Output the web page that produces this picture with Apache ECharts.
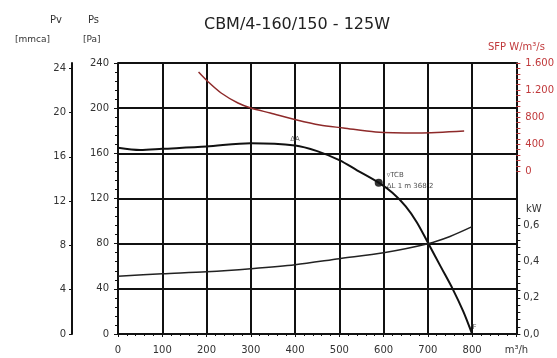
<!DOCTYPE html>
<html><head><meta charset="utf-8">
<script src="https://cdn.jsdelivr.net/npm/echarts@6/dist/echarts.min.js"></script>
<style>html,body{margin:0;padding:0;background:#fff}#c{width:557px;height:358px}</style>
</head><body><div id="c"></div>
<script>
// ---- data ----
const flowPressure = [0, 50, 100, 200, 300, 400, 450, 500, 540, 589, 620, 650, 675, 700, 730, 756, 780, 800];
const pressurePa   = [165, 163, 164, 166, 169, 167, 162, 154, 145, 134, 125, 113, 99, 81, 59, 40, 20, 0];
const flowPower = [0, 100, 200, 300, 400, 500, 600, 700, 750, 800];
const powerKW   = [0.32, 0.333, 0.344, 0.361, 0.383, 0.417, 0.45, 0.5, 0.54, 0.594];
const flowSFP   = [182, 204, 233, 271, 300, 344, 404, 456, 509, 582, 678, 782];
const sfpValues = [1467, 1320, 1157, 1009, 936, 862, 759, 685, 641, 581, 567, 596];
const dutyPoint = [589, 134];
const xLabels   = {0:'0',100:'100',200:'200',300:'300',400:'400',500:'500',600:'600',700:'700',800:'800',900:'m³/h'};
const mmTicks   = [0, 4, 8, 12, 16, 20, 24];
const sfpTicks  = [0, 400, 800, 1200, 1600];
const sfpLabels = ['0', '400', '800', '1.200', '1.600'];
const kwTicks   = [0, 0.2, 0.4, 0.6];
const kwLabels  = ['0,0', '0,2', '0,4', '0,6'];
const annotations = [
  {x: 400, y: 167, text: 'ΔA'},
  {x: 800, y: 0, text: 'VF'}
];
const titleText = 'CBM/4-160/150 - 125W';

const PA_PER_MM = 9.81;
const kwMinor = []; for (let v = 0; v <= 0.6401; v += 0.04) kwMinor.push(+v.toFixed(2));
const sfpMinor = []; for (let v = 0; v <= 1600; v += 80) sfpMinor.push(v);

const zip = (a, b) => a.map((v, i) => [v, b[i]]);
const lbl = {fontFamily: 'DejaVu Sans', fontSize: 10, color: '#333'};

const chart = echarts.init(document.getElementById('c'), null, {renderer: 'canvas'});
chart.setOption({
  animation: false,
  backgroundColor: '#fff',
  title: {text: titleText, left: 292, top: 12, textAlign: 'center',
    textStyle: {fontFamily: 'DejaVu Sans', fontSize: 16, fontWeight: 'normal', color: '#222'}},
  grid: {left: 118, right: 35, top: 63, bottom: 24},
  xAxis: {type: 'value', min: 0, max: 900, interval: 100,
    axisLine: {show: true, lineStyle: {color: '#111', width: 2}},
    axisTick: {show: true, length: 3, lineStyle: {color: '#111'}},
    minorTick: {show: true, splitNumber: 5, length: 2, lineStyle: {color: '#111'}},
    splitLine: {show: true, lineStyle: {color: '#111', width: 2}},
    axisLabel: Object.assign({}, lbl, {margin: 11, formatter: v => xLabels[v] || ''})},
  yAxis: [
    {type: 'value', min: 0, max: 240, interval: 40, position: 'left',
      axisLine: {show: true, lineStyle: {color: '#111', width: 2}},
      axisTick: {show: true, length: 4, lineStyle: {color: '#111'}},
      minorTick: {show: true, splitNumber: 5, length: 3, lineStyle: {color: '#111'}},
      splitLine: {show: true, lineStyle: {color: '#111', width: 2}},
      axisLabel: Object.assign({}, lbl, {margin: 9})},
    {type: 'value', min: 0, max: 240 / PA_PER_MM, position: 'left', offset: 46,
      axisLine: {show: true, lineStyle: {color: '#111', width: 2}},
      axisTick: {show: true, length: 3, customValues: mmTicks, lineStyle: {color: '#111'}},
      splitLine: {show: false},
      axisLabel: Object.assign({}, lbl, {margin: 6, customValues: mmTicks})},
    {type: 'value', min: -2400, max: 1600, position: 'right',
      axisLine: {show: false},
      axisTick: {show: true, length: 4, customValues: sfpMinor, lineStyle: {color: '#c0393b'}},
      splitLine: {show: false},
      axisLabel: Object.assign({}, lbl, {color: '#c0393b', margin: 9, customValues: sfpTicks,
        formatter: v => sfpLabels[sfpTicks.indexOf(v)]})},
    {type: 'value', min: 0, max: 1.5, position: 'right',
      axisLine: {show: true, lineStyle: {color: '#111', width: 2}},
      axisTick: {show: true, length: 4, customValues: kwMinor, lineStyle: {color: '#111'}},
      splitLine: {show: false},
      axisLabel: Object.assign({}, lbl, {margin: 7, customValues: kwTicks,
        formatter: v => kwLabels[kwTicks.indexOf(+v.toFixed(1))]})}
  ],
  series: [
    {type: 'line', name: 'Ps', yAxisIndex: 0, data: zip(flowPressure, pressurePa), smooth: 0.3,
      showSymbol: false, lineStyle: {color: '#111', width: 2}},
    {type: 'line', name: 'P', yAxisIndex: 3, data: zip(flowPower, powerKW), smooth: 0.3,
      showSymbol: false, lineStyle: {color: '#222', width: 1.5}},
    {type: 'line', name: 'SFP', yAxisIndex: 2, data: zip(flowSFP, sfpValues), smooth: 0.3,
      showSymbol: false, lineStyle: {color: '#8e2a2a', width: 1.5}},
    {type: 'scatter', yAxisIndex: 0, symbolSize: 8, itemStyle: {color: '#000'},
      data: [dutyPoint],
      label: {show: true, position: 'right', distance: 4, fontFamily: 'DejaVu Sans', fontSize: 7, color: '#222',
        lineHeight: 11, formatter: '▿TCB\nΔL 1 m 368.2', offset: [0, -2]}},
    {type: 'scatter', yAxisIndex: 0, symbolSize: 0,
      data: annotations.map(a => ({value: [a.x, a.y], name: a.text})),
      label: {show: true, position: 'top', distance: 3, fontFamily: 'DejaVu Sans', fontSize: 7, color: '#333',
        formatter: p => p.name}}
  ],
  graphic: [
    {type: 'text', left: 50, top: 15, style: {text: 'Pv', font: '10px "DejaVu Sans"', fill: '#333'}},
    {type: 'text', left: 15, top: 35, style: {text: '[mmca]', font: '9px "DejaVu Sans"', fill: '#333'}},
    {type: 'text', left: 88, top: 15, style: {text: 'Ps', font: '10px "DejaVu Sans"', fill: '#333'}},
    {type: 'text', left: 83, top: 35, style: {text: '[Pa]', font: '9px "DejaVu Sans"', fill: '#333'}},
    {type: 'text', left: 488, top: 42, style: {text: 'SFP W/m³/s', font: '10px "DejaVu Sans"', fill: '#c0393b'}},
    {type: 'text', left: 526, top: 204, style: {text: 'kW', font: '10px "DejaVu Sans"', fill: '#333'}}
  ]
});
</script></body></html>
